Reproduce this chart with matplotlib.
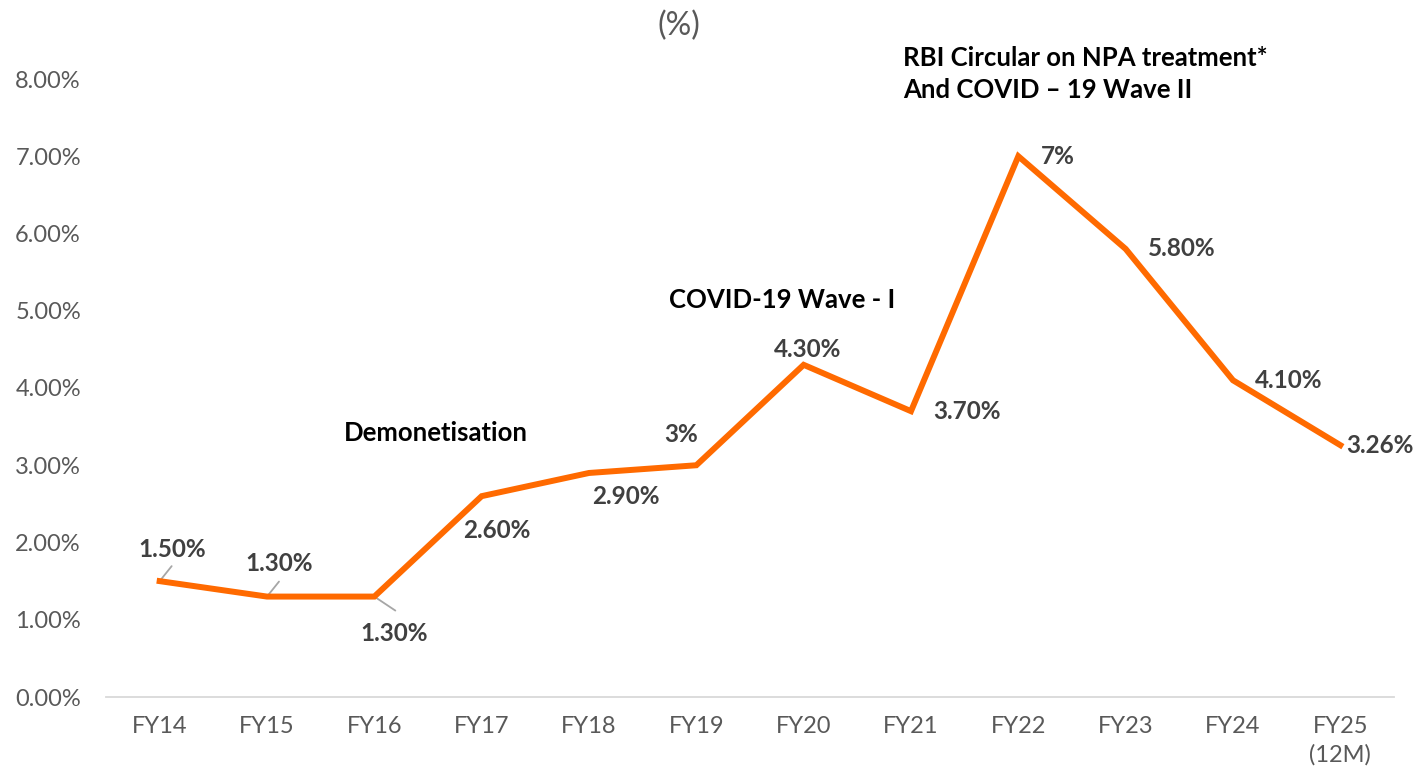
import matplotlib
matplotlib.use('Agg')
import matplotlib.pyplot as plt
import numpy as np

years = ['FY14', 'FY15', 'FY16', 'FY17', 'FY18', 'FY19', 'FY20', 'FY21',
         'FY22', 'FY23', 'FY24', 'FY25\n(12M)']
npa = [1.5, 1.3, 1.3, 2.6, 2.9, 3.0, 4.3, 3.7, 7.0, 5.8, 4.1, 3.26]
point_labels = ['1.50%', '1.30%', '1.30%', '2.60%', '2.90%', '3%', '4.30%',
                '3.70%', '7%', '5.80%', '4.10%', '3.26%']
# label offsets in pixels (dx, dy up)
label_offsets = [(13, 32), (12, 33), (20, -37), (15, -34), (37, -24), (-15, 31),
                 (4, 15), (56, 0), (39, 0), (56, 0), (56, 0), (40, 0)]
# leader line end offsets (pixels) for the first three labels
leader_ends = [(12, 15), (12, 15), (21, -14)]

plt.rcParams['font.family'] = ['Lato', 'DejaVu Sans']

fig = plt.figure(figsize=(14.2, 7.78), dpi=100)
ax = fig.add_axes([106 / 1420, 81 / 778, (1394 - 106) / 1420, (697 - 79) / 778])

x = np.arange(len(years))
ax.plot(x, npa, color='#FF6A00', linewidth=4.3, solid_joinstyle='miter', zorder=3)

for xi, yi, lab, (dx, dy) in zip(x, npa, point_labels, label_offsets):
    ax.annotate(lab, xy=(xi, yi), xytext=(dx, dy), textcoords='offset pixels',
                ha='center', va='center', fontsize=17.5, fontweight='bold',
                color='#404040')

for xi, yi, (lx, ly) in zip(x, npa, leader_ends):
    ax.annotate('', xy=(xi, yi), xytext=(lx, ly), textcoords='offset pixels',
                arrowprops=dict(arrowstyle='-', color='#a6a6a6', lw=1.3,
                                shrinkA=0, shrinkB=0), zorder=2)

ax.set_xlim(-0.5, len(years) - 0.5)
ax.set_ylim(0, 8)
ax.set_yticks(np.arange(0, 9, 1))
ax.set_yticklabels([f'{v:.2f}%' for v in range(9)])
ax.set_xticks(x)
ax.set_xticklabels(years, linespacing=1.35)
ax.tick_params(axis='both', length=0, labelsize=17, labelcolor='#595959')
ax.tick_params(axis='x', pad=14)
ax.tick_params(axis='y', pad=18)

for s in ['top', 'right', 'left']:
    ax.spines[s].set_visible(False)
ax.spines['bottom'].set_color('#d9d9d9')
ax.spines['bottom'].set_linewidth(1.3)

fig.text(679 / 1420, 1 - 26 / 778, '(%)', ha='center', va='center',
         fontsize=23, color='#595959')
fig.text(436 / 1420, 1 - 433 / 778, 'Demonetisation', ha='center', va='center',
         fontsize=18.5, fontweight='bold', color='black')
fig.text(782 / 1420, 1 - 300 / 778, 'COVID-19 Wave - I', ha='center', va='center',
         fontsize=18.5, fontweight='bold', color='black')
fig.text(903 / 1420, 1 - 74 / 778, 'RBI Circular on NPA treatment*\nAnd COVID \u2013 19 Wave II',
         ha='left', va='center', fontsize=18.5, fontweight='bold', color='black',
         linespacing=1.4)

fig.savefig('out.png', dpi=100)
